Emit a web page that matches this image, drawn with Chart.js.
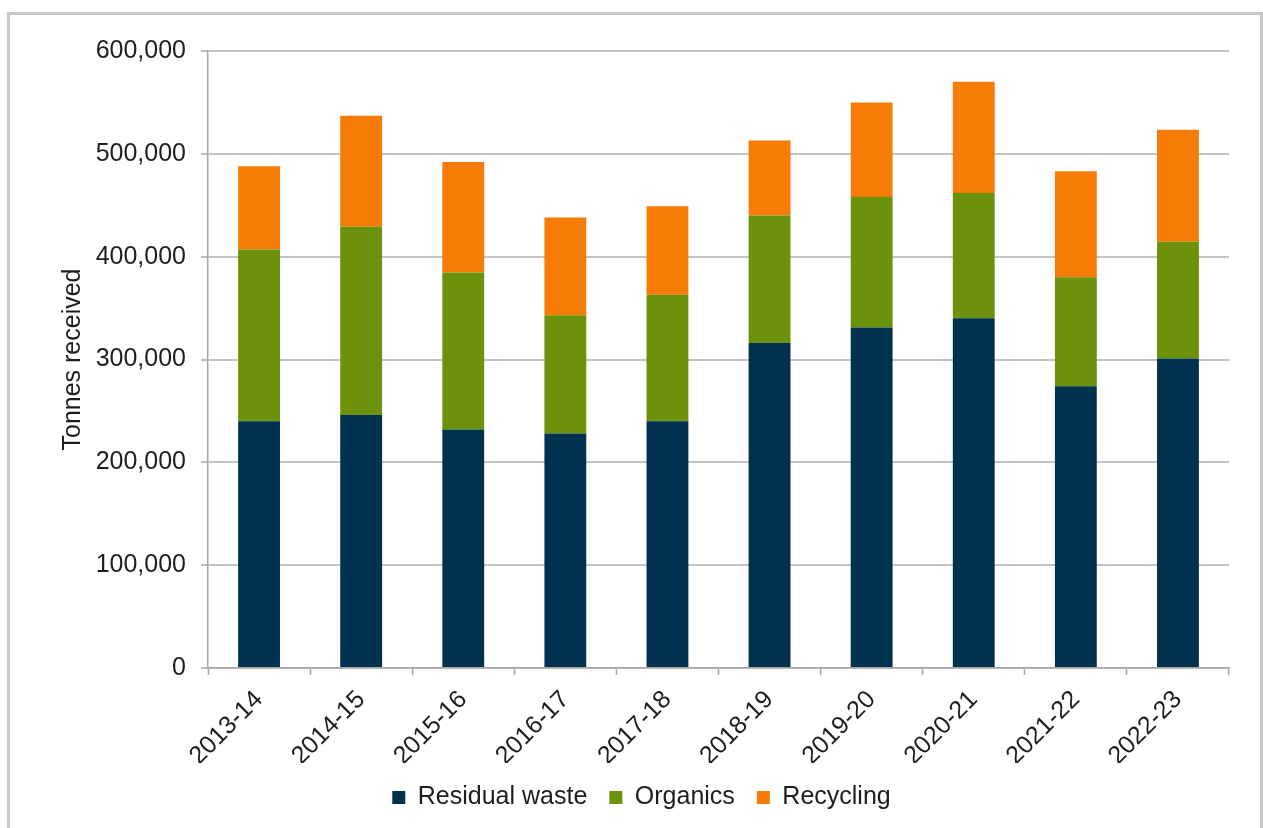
<!DOCTYPE html>
<html>
<head>
<meta charset="utf-8">
<script src="https://cdn.jsdelivr.net/npm/chart.js@4"></script>
<style>
  html, body { margin: 0; padding: 0; background: #ffffff; }
  #wrap { position: absolute; left: 0; top: 0; width: 1263px; height: 828px; }
</style>
</head>
<body>
<div id="wrap"><canvas id="waste-chart"></canvas></div>
<script>
// 年度ラベル
const YEARS = ['2013-14', '2014-15', '2015-16', '2016-17', '2017-18', '2018-19', '2019-20', '2020-21', '2021-22', '2022-23'];

// 各系列（トン）
const RESIDUAL = [240000, 246000, 232000, 228000, 240000, 316000, 331000, 340000, 274000, 301000];
const ORGANICS = [167000, 183000, 152500, 115000, 123000, 124000, 127000, 122000, 106000, 113500];
const RECYCLING = [81000, 108000, 107500, 95000, 86000, 73000, 92000, 108000, 103000, 109000];

// Y軸の目盛り
const Y_MAX = 600000;
const Y_STEP = 100000;

const FONT = '"Liberation Sans", Arial, sans-serif';
const TEXT = '#1e1e1e';
const SIZE = 25;

// 外枠を描くプラグイン
const frame = {
  id: 'frame',
  beforeDraw(chart) {
    const c = chart.ctx;
    c.save();
    c.strokeStyle = '#c8c8c8';
    c.lineWidth = 3;
    c.beginPath();
    c.moveTo(8.5, 828);
    c.lineTo(8.5, 13.5);
    c.lineTo(1261.5, 13.5);
    c.lineTo(1261.5, 828);
    c.stroke();
    c.restore();
  },
};

// 凡例を枠の中央に寄せる（右パディング分ずらす）
const legendShift = {
  id: 'legendShift',
  afterLayout(chart) {
    if (!chart.legend) return;
    chart.legend.left += 27;
    chart.legend.right += 27;
  },
};

new Chart(document.getElementById('waste-chart'), {
  type: 'bar',
  data: {
    labels: YEARS,
    datasets: [
      { label: 'Residual waste', data: RESIDUAL, backgroundColor: '#003250' },
      { label: 'Organics', data: ORGANICS, backgroundColor: '#6b920a' },
      { label: 'Recycling', data: RECYCLING, backgroundColor: '#f77c07' },
    ],
  },
  options: {
    responsive: true,
    maintainAspectRatio: false,
    animation: false,
    datasets: {
      bar: { barPercentage: 0.41, categoryPercentage: 1 },
    },
    layout: {
      padding: { left: 0, top: 51, right: 34, bottom: 8 },
    },
    plugins: {
      tooltip: { enabled: false },
      legend: {
        position: 'bottom',
        labels: {
          color: TEXT,
          font: { family: FONT, size: SIZE },
          boxWidth: 13,
          boxHeight: 13,
          padding: 22,
        },
      },
    },
    scales: {
      x: {
        stacked: true,
        afterFit(scale) { scale.height = 95; },
        border: { color: '#a6a6a6', width: 1.5 },
        grid: {
          drawOnChartArea: false,
          drawTicks: true,
          tickLength: 7,
          tickColor: '#a6a6a6',
          tickWidth: 1.5,
        },
        ticks: {
          color: TEXT,
          font: { family: FONT, size: SIZE },
          minRotation: 45,
          maxRotation: 45,
          autoSkip: false,
          padding: 10,
        },
      },
      y: {
        stacked: true,
        min: 0,
        max: Y_MAX,
        afterFit(scale) { scale.width = 208; },
        border: { color: '#a6a6a6', width: 1.5 },
        grid: {
          color: '#c4c4c4',
          lineWidth: 2,
          tickLength: 7,
          tickColor: '#a6a6a6',
          tickWidth: 1.5,
        },
        ticks: {
          stepSize: Y_STEP,
          color: TEXT,
          padding: 15,
          font: { family: FONT, size: SIZE },
          callback: function (v) { return v.toLocaleString('en-US'); },
        },
        title: {
          display: true,
          text: 'Tonnes received',
          color: TEXT,
          font: { family: FONT, size: SIZE },
          padding: { top: 58, bottom: 0 },
        },
      },
    },
  },
  plugins: [frame, legendShift],
});
</script>
</body>
</html>
